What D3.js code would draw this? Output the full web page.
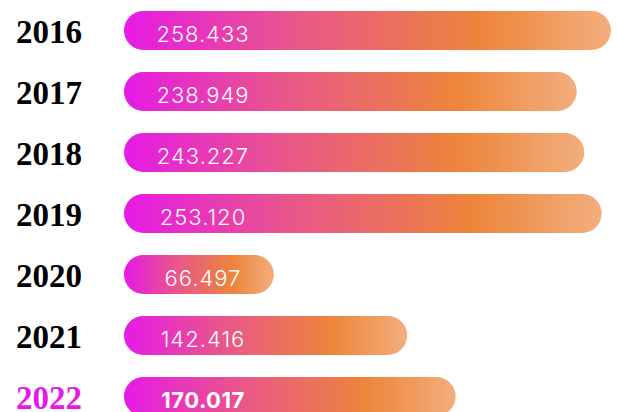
<!DOCTYPE html>
<html>
<head>
<meta charset="utf-8">
<script src="https://cdn.jsdelivr.net/npm/d3@7"></script>
<style>
  html, body { margin: 0; padding: 0; background: #ffffff; }
  svg { display: block; }
</style>
</head>
<body>
<div id="chart"></div>
<script>
const years = ["2016", "2017", "2018", "2019", "2020", "2021", "2022"];
const values = [258.433, 238.949, 243.227, 253.120, 66.497, 142.416, 170.017];
const labels = ["258.433", "238.949", "243.227", "253.120", "66.497", "142.416", "170.017"];
const highlightYear = "2022";

const W = 617, H = 412;
const svg = d3.select("#chart").append("svg").attr("width", W).attr("height", H);

const defs = svg.append("defs");
const grad = defs.append("linearGradient").attr("id", "barGrad")
  .attr("x1", "0%").attr("x2", "100%").attr("y1", "0%").attr("y2", "0%");
[["0%", "#e61ae6"], ["35%", "#e9568a"], ["73%", "#ed853a"], ["100%", "#f2ae7e"]]
  .forEach(([o, c]) => grad.append("stop").attr("offset", o).attr("stop-color", c));

const barX = 124;
const y = d3.scaleBand().domain(years).range([11, 416]).paddingInner(0.36).paddingOuter(0);
const w = d3.scaleLinear().domain([0, 258.433]).range([33, 487]);

const data = years.map((yr, i) => ({ year: yr, value: values[i], label: labels[i] }));

const g = svg.append("g");
const row = g.selectAll("g.row").data(data).join("g").attr("class", "row");

row.append("rect")
  .attr("x", barX)
  .attr("y", d => y(d.year))
  .attr("width", d => w(d.value))
  .attr("height", y.bandwidth())
  .attr("rx", y.bandwidth() / 2)
  .attr("ry", y.bandwidth() / 2)
  .attr("fill", "url(#barGrad)");

row.append("text")
  .attr("x", 16)
  .attr("y", d => y(d.year) + y.bandwidth() / 2 + 12.5)
  .attr("font-family", "'Liberation Serif', 'DejaVu Serif', serif")
  .attr("font-weight", 900)
  .attr("font-size", 33)
  .attr("fill", d => d.year === highlightYear ? "#e61ae6" : "#000000")
  .text(d => d.year);

row.append("text")
  .attr("x", 203)
  .attr("y", d => y(d.year) + y.bandwidth() / 2 + 11.5)
  .attr("text-anchor", "middle")
  .attr("font-family", "Inter, 'Open Sans', sans-serif")
  .attr("font-weight", d => d.year === highlightYear ? 700 : 300)
  .attr("letter-spacing", d => d.year === highlightYear ? 0.5 : 1)
  .attr("font-size", 22)
  .attr("fill", "#ffffff")
  .text(d => d.label);
</script>
</body>
</html>
